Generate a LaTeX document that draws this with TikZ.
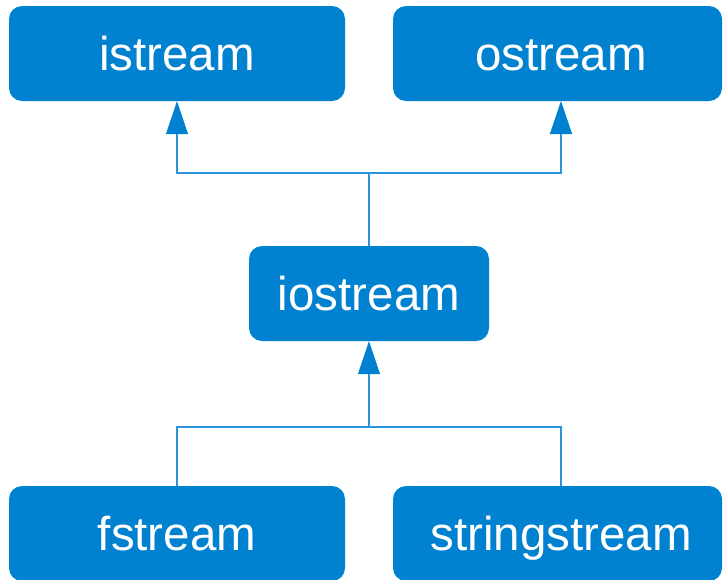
\documentclass[tikz,border=0pt]{standalone}
\usepackage{fontspec}
\setmainfont{Liberation Sans}
\usetikzlibrary{arrows.meta}
\definecolor{boxblue}{HTML}{0082D0}
\definecolor{linkblue}{HTML}{2A96DA}
\begin{document}
\begin{tikzpicture}[x=1pt,y=-1pt,
  classbox/.style={fill=boxblue,draw=none,rounded corners=13pt,text=white,
    font=\fontsize{47.5}{50}\selectfont,inner sep=0pt,
    text height=34pt,text depth=0pt},
  link/.style={draw=linkblue,line width=1.2pt},
  inherit/.style={link,-{Triangle[length=33pt,width=22pt,fill=boxblue,color=boxblue]}}]
  \useasboundingbox (0,0) rectangle (723,579);
  % base classes
  \node[classbox,minimum width=336pt,minimum height=95pt] (is) at (177,53.5) {istream};
  \node[classbox,minimum width=329pt,minimum height=95pt] (os) at (557.5,53.5) {\hspace*{7pt}ostream};
  % combined stream
  \node[classbox,minimum width=240pt,minimum height=95pt] (io) at (369,293.5) {iostream};
  % derived streams
  \node[classbox,minimum width=336pt,minimum height=95pt] (fs) at (177,533.5) {fstream};
  \node[classbox,minimum width=329pt,minimum height=95pt] (ss) at (557.5,533.5) {\hspace*{7pt}stringstream};
  % junction points
  \coordinate (up) at (369,173);
  \coordinate (dn) at (369,427);
  \coordinate (osfoot) at (561,101);
  \coordinate (ssfoot) at (561,486);
  % upper inheritance
  \draw[link] (io.north) -- (up);
  \draw[inherit] (up) -| (is.south);
  \draw[inherit] (up) -| (osfoot);
  % lower inheritance
  \draw[link] (fs.north) |- (dn);
  \draw[link] (ssfoot) |- (dn);
  \draw[inherit] (dn) -- (io.south);
\end{tikzpicture}
\end{document}
